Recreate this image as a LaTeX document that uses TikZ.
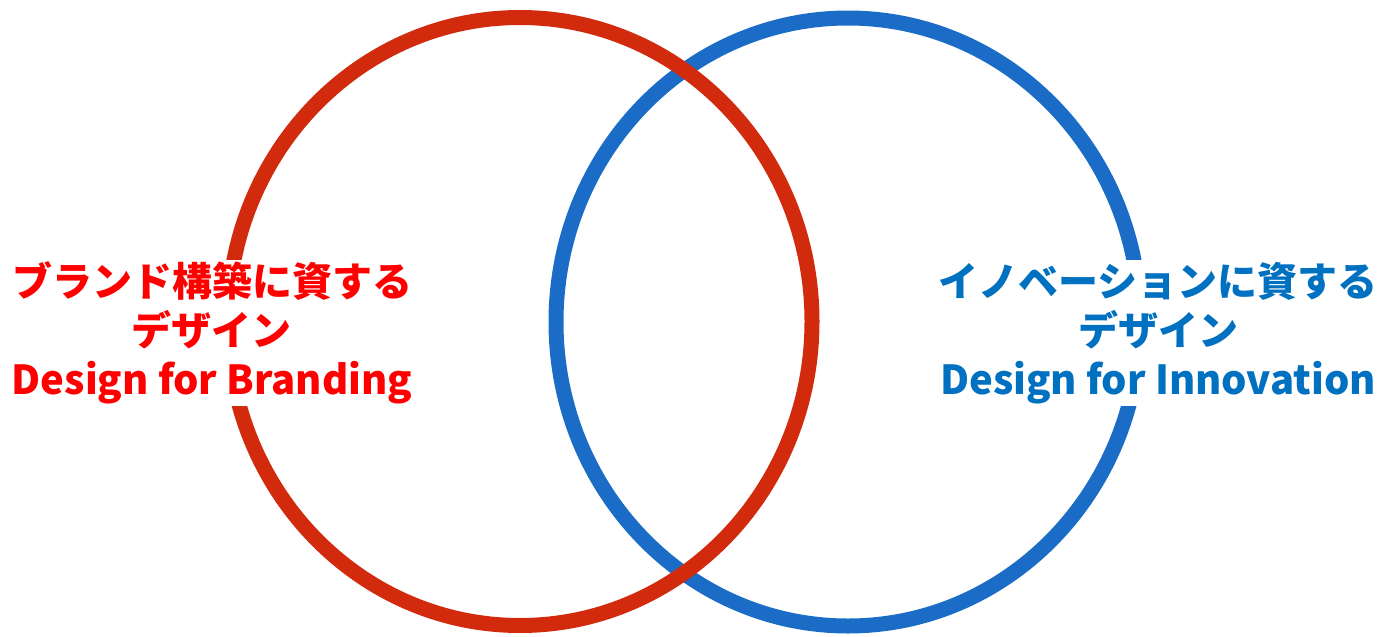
\documentclass[tikz,border=0pt]{standalone}
\usepackage{fontspec}
\newfontfamily\jpfont{Noto Sans CJK JP}
\usepackage{xcolor}
\usepackage{tikz}
\usetikzlibrary{shapes.geometric,positioning}

\definecolor{ringred}{HTML}{D22A0C}
\definecolor{ringblue}{HTML}{1A6CC6}
\definecolor{textred}{HTML}{FF0000}
\definecolor{textblue}{HTML}{0070C0}

\begin{document}
\begin{tikzpicture}[
  x=1pt, y=-1pt,
  ring/.style={ellipse, draw, line width=15pt, inner sep=0pt,
               minimum width=584pt, minimum height=608pt},
  label/.style={fill=white, align=center, inner sep=2pt,
                font=\jpfont\bfseries\fontsize{40}{49}\selectfont}
]
\useasboundingbox (0,0) rectangle (1379,637);

\node[ring, draw=ringblue] (innovring) at (848,322) {};
\node[ring, draw=ringred]  (brandring) at (520,321.5) {};

% Labels
\node[label, text=textred]  (brand) at (212,333)
  {ブランド構築に資する\\デザイン\\Design for Branding};
\node[label, text=textblue] (innov) at (1158,333)
  {イノベーションに資する\\デザイン\\Design for Innovation};
\end{tikzpicture}
\end{document}
